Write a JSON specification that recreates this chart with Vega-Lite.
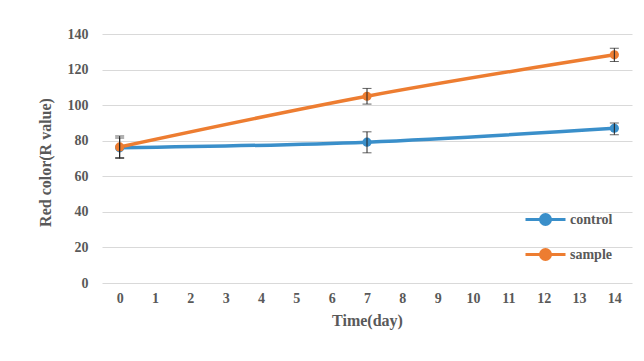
{
  "$schema": "https://vega.github.io/schema/vega-lite/v6.json",
  "width": 530,
  "height": 249,
  "autosize": {"type": "none"},
  "padding": {"left": 102, "top": 34, "right": 12, "bottom": 78},
  "background": "white",
  "config": {
    "view": {"stroke": null},
    "font": "Liberation Serif",
    "axis": {"labelFont": "Liberation Serif", "titleFont": "Liberation Serif", "labelFontWeight": "bold", "titleFontWeight": "bold", "labelColor": "#595959", "titleColor": "#595959", "labelFontSize": 14, "titleFontSize": 16}
  },
  "data": {"values": [
    {"series": "control", "day": 0, "value": 76, "lo": 70.5, "hi": 81.5},
    {"series": "control", "day": 7, "value": 79.2, "lo": 73.2, "hi": 85},
    {"series": "control", "day": 14, "value": 87, "lo": 83.4, "hi": 90},
    {"series": "sample", "day": 0, "value": 76.5, "lo": 70, "hi": 82.6},
    {"series": "sample", "day": 7, "value": 105, "lo": 100.6, "hi": 109.4},
    {"series": "sample", "day": 14, "value": 128.3, "lo": 124.5, "hi": 132}
  ]},
  "encoding": {
    "x": {"field": "day", "type": "quantitative",
      "scale": {"domain": [-0.5, 14.5], "nice": false, "zero": false},
      "axis": {"values": [0,1,2,3,4,5,6,7,8,9,10,11,12,13,14], "grid": false, "domain": false, "ticks": false, "labelPadding": 8, "title": "Time(day)", "titlePadding": 7, "labelFlush": false}
    },
    "y": {"field": "value", "type": "quantitative",
      "scale": {"domain": [0, 140], "nice": false},
      "axis": {"values": [0,20,40,60,80,100,120,140], "grid": true, "gridColor": "#d9d9d9", "domain": false, "ticks": false, "labelPadding": 14, "title": "Red color(R value)", "titleX": -57, "titleY": 128, "titleBaseline": "middle", "titleAlign": "center"}
    }
  },
  "layer": [
    {
      "mark": {"type": "line", "interpolate": "monotone", "strokeWidth": 3.5},
      "encoding": {
        "color": {"field": "series", "type": "nominal",
          "scale": {"domain": ["control", "sample"], "range": ["#3a8fca", "#ed7d31"]},
          "legend": {"title": null, "orient": "none", "legendX": 432, "legendY": 174, "rowPadding": 12,
            "symbolType": "M-2,0H2M0.5,0A0.5,0.5,0,1,1,-0.5,0A0.5,0.5,0,1,1,0.5,0",
            "symbolSize": 400, "symbolStrokeWidth": 3, "symbolFillColor": null,
            "labelFont": "Liberation Serif", "labelFontWeight": "bold", "labelFontSize": 14, "labelColor": "#595959", "labelOffset": 13}
        }
      }
    },
    {
      "mark": {"type": "circle", "size": 85, "opacity": 1},
      "encoding": {"color": {"field": "series", "type": "nominal", "legend": null}}
    },
    {
      "mark": {"type": "rule", "color": "#222222", "strokeWidth": 1},
      "encoding": {"y": {"field": "lo", "type": "quantitative"}, "y2": {"field": "hi"}}
    },
    {
      "mark": {"type": "tick", "orient": "horizontal", "color": "#222222", "size": 9, "thickness": 1},
      "encoding": {"y": {"field": "lo", "type": "quantitative"}}
    },
    {
      "mark": {"type": "tick", "orient": "horizontal", "color": "#222222", "size": 9, "thickness": 1},
      "encoding": {"y": {"field": "hi", "type": "quantitative"}}
    }
  ]
}
